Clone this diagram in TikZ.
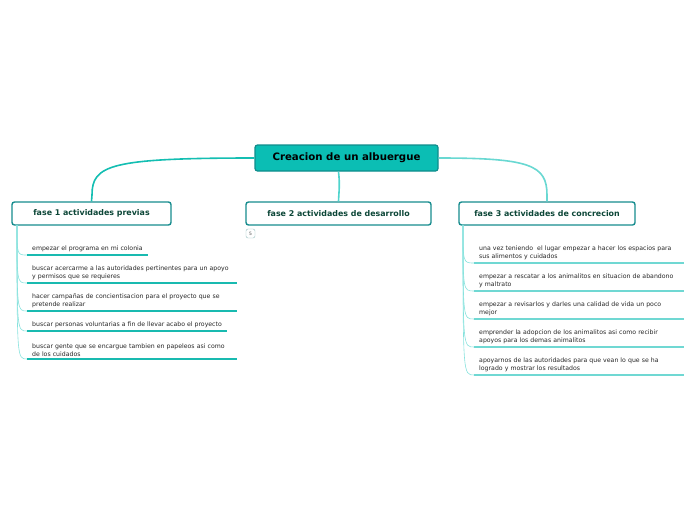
\documentclass[tikz,border=0pt]{standalone}
\usepackage{fontspec}
\setmainfont{DejaVu Sans}
\definecolor{rootfill}{RGB}{11,190,180}
\definecolor{rootdraw}{RGB}{16,140,140}
\definecolor{boxdraw}{RGB}{22,140,142}
\definecolor{titletext}{RGB}{12,70,55}
\definecolor{linkA}{RGB}{20,190,178}
\definecolor{linkB}{RGB}{80,212,205}
\definecolor{linkC}{RGB}{105,216,210}
\definecolor{underA}{RGB}{25,186,176}
\definecolor{underC}{RGB}{112,216,211}
\definecolor{treeline}{RGB}{135,226,221}
\definecolor{badge}{RGB}{150,190,190}
\tikzset{
  root/.style={draw=rootdraw, fill=rootfill, line width=1.2pt, rounded corners=2.5pt,
    minimum width=183pt, minimum height=26pt, inner sep=0pt,
    font=\fontsize{10.2}{12}\selectfont\bfseries},
  fase/.style={draw=boxdraw, fill=white, line width=1.4pt, rounded corners=2.5pt,
    minimum height=23pt, inner sep=0pt, text=titletext,
    font=\fontsize{7.9}{9}\selectfont\bfseries},
  item/.style={anchor=south west, inner xsep=5pt, inner ysep=2.6pt, align=left,
    text=black!85, font=\fontsize{6.2}{8}\selectfont},
  wide/.style={text width=200pt},
  uline/.style={line width=1.3pt},
  tree/.style={treeline, line width=0.6pt}
}
\begin{document}
\begin{tikzpicture}[x=1pt,y=-1pt]
  \useasboundingbox (0,0) rectangle (696,520);

  % main topic and phases
  \node[root] (root) at (346.5,158) {Creacion de un albuergue};
  \node[fase, minimum width=159pt] (f1) at (91.5,213.5) {fase 1 actividades previas};
  \node[fase, minimum width=185pt] (f2) at (338.5,213.5) {fase 2 actividades de desarrollo};
  \node[fase, minimum width=176pt] (f3) at (547,213.5) {fase 3 actividades de concrecion};

  \draw[linkA, line width=1.6pt] (root.west) .. controls (110,158) and (92,165) .. (92,195) -- (f1.north);
  \draw[linkB, line width=1.6pt] (f2.north |- root.south) .. controls (340,185) and (339,190) .. (f2.north);
  \draw[linkC, line width=1.6pt] (root.east) .. controls (530,158) and (547,165) .. (547,195) -- (f3.north);

  \node[draw=badge, rounded corners=2pt, minimum width=9pt, minimum height=9pt, inner sep=0pt,
    font=\fontsize{4.5}{5}\selectfont, text=black!70] (cnt) at (250.5,233.5) {5};

  % fase 1
  \coordinate (t1) at (17,225);
  \node[item] (a1) at (27,255) {empezar el programa en mi colonia};
  \node[item, wide] (a2) at (27,283) {buscar acercarme a las autoridades pertinentes para un apoyo\\y permisos que se requieres};
  \node[item, wide] (a3) at (27,311) {hacer campañas de concientisacion para el proyecto que se\\pretende realizar};
  \node[item] (a4) at (27,331) {buscar personas voluntarias a fin de llevar acabo el proyecto};
  \node[item, wide] (a5) at (27,359) {buscar gente que se encargue tambien en papeleos asi como\\de los cuidados};
  \foreach \n in {a1,a2,a3,a4,a5} {
    \draw[tree] (t1) .. controls (t1 |- \n.south west) .. (\n.south west);
    \draw[underA, uline] (\n.south west) -- (\n.south east);
  }

  % fase 3
  \coordinate (t3) at (463,225);
  \node[item, wide] (c1) at (474,263) {una vez teniendo\ \ el lugar empezar a hacer los espacios para\\sus alimentos y cuidados};
  \node[item, wide] (c2) at (474,291) {empezar a rescatar a los animalitos en situacion de abandono\\y maltrato};
  \node[item, wide] (c3) at (474,319) {empezar a revisarlos y darles una calidad de vida un poco\\mejor};
  \node[item, wide] (c4) at (474,347) {emprender la adopcion de los animalitos asi como recibir\\apoyos para los demas animalitos};
  \node[item, wide] (c5) at (474,375) {apoyarnos de las autoridades para que vean lo que se ha\\logrado y mostrar los resultados};
  \foreach \n in {c1,c2,c3,c4,c5} {
    \draw[tree] (t3) .. controls (t3 |- \n.south west) .. (\n.south west);
    \draw[underC, uline] (\n.south west) -- (\n.south east);
  }
\end{tikzpicture}
\end{document}
